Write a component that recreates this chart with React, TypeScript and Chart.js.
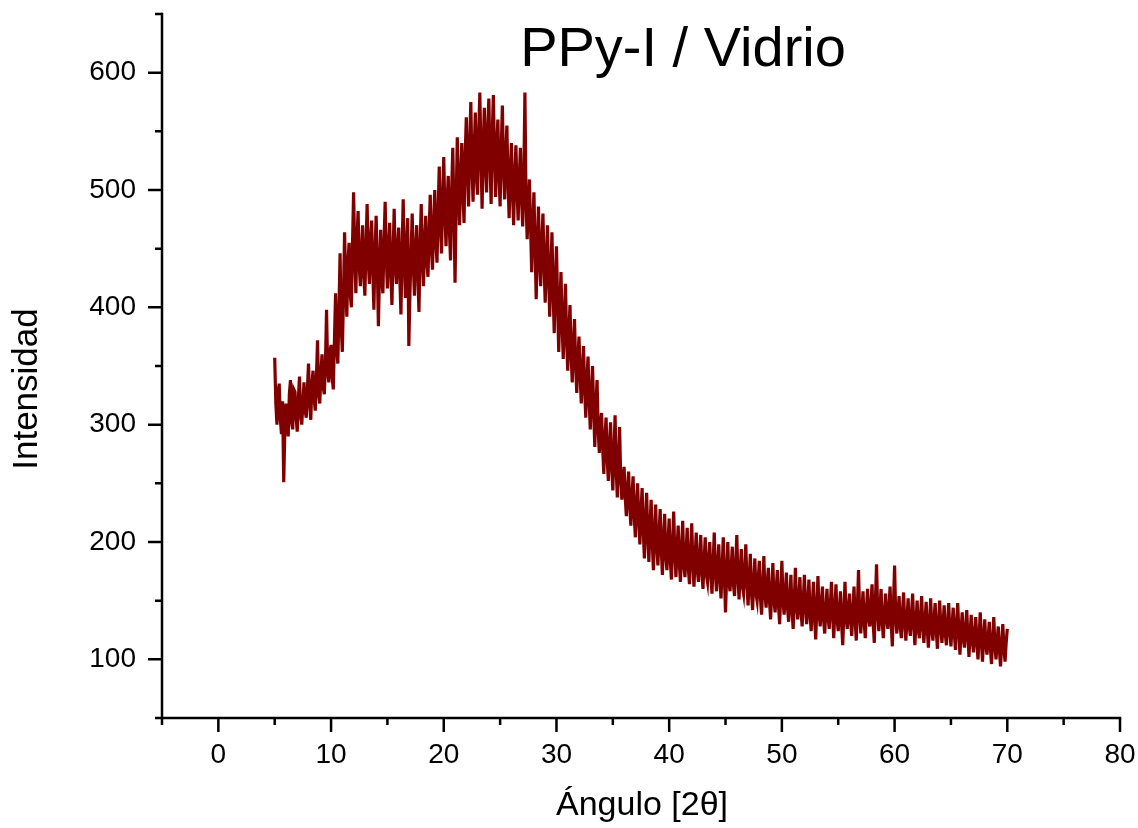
import React, { useEffect, useRef } from 'react';
import { Chart, registerables } from 'chart.js';

Chart.register(...registerables);

const CHART_TITLE = 'PPy-I / Vidrio';
const X_TITLE = 'Ángulo [2θ]';
const Y_TITLE = 'Intensidad';

const X_MIN = -5;
const X_MAX = 80;
const Y_MIN = 50;
const Y_MAX = 650;
const X_MAJOR_TICKS = [0, 10, 20, 30, 40, 50, 60, 70, 80];
const X_MINOR_TICKS = [-5, 5, 15, 25, 35, 45, 55, 65, 75];
const Y_MAJOR_TICKS = [100, 200, 300, 400, 500, 600];
const Y_MINOR_TICKS = [50, 150, 250, 350, 450, 550, 650];

// Scan grid: 2θ from 5.0° in 0.1° steps
const SCAN_START = 5;
const SCAN_STEP = 0.1;

// Intensity readings, 2θ = 5.0 … 14.9
const intensity05to15 = [
  357, 318, 300, 328, 335, 305, 292, 320, 251, 296, 318, 300, 290, 326, 338, 302, 296, 330, 328, 306,
  294, 322, 341, 308, 300, 318, 336, 312, 306, 330, 352, 318, 304, 334, 346, 322, 312, 340, 372, 326,
  318, 344, 360, 332, 326, 352, 398, 346, 336, 362, 368, 340, 330, 372, 412, 366, 352, 398, 446, 384,
  362, 408, 464, 420, 392, 438, 455, 412, 400, 452, 498, 446, 412, 458, 482, 436, 418, 446, 470, 428,
  410, 452, 488, 440, 420, 458, 474, 432, 398, 446, 478, 438, 384, 430, 466, 424, 412, 456, 490, 442,
];
// 2θ = 15.0 … 24.9
const intensity15to25 = [
  416, 450, 472, 430, 402, 444, 484, 436, 420, 452, 468, 426, 394, 448, 492, 440, 408, 452, 476, 367,
  412, 446, 480, 436, 410, 450, 470, 428, 396, 452, 488, 442, 418, 458, 478, 438, 426, 464, 496, 452,
  432, 470, 500, 456, 438, 482, 520, 470, 446, 494, 528, 480, 452, 490, 512, 466, 440, 498, 536, 482,
  421, 488, 545, 500, 470, 512, 540, 496, 472, 530, 562, 518, 486, 540, 575, 520, 490, 534, 566, 510,
  496, 548, 583, 530, 484, 536, 570, 522, 498, 552, 578, 524, 488, 546, 581, 530, 494, 538, 560, 512,
];
// 2θ = 25.0 … 34.9
const intensity25to35 = [
  486, 536, 572, 520, 492, 530, 555, 506, 476, 514, 540, 498, 470, 512, 538, 500, 474, 510, 536, 494,
  469, 508, 583, 490, 458, 486, 509, 470, 430, 468, 498, 452, 407, 450, 486, 440, 418, 456, 480, 436,
  404, 438, 470, 426, 392, 430, 464, 414, 378, 420, 452, 404, 362, 398, 430, 386, 356, 392, 420, 372,
  346, 378, 402, 360, 336, 368, 390, 352, 327, 356, 375, 342, 318, 346, 367, 330, 306, 338, 358, 320,
  296, 326, 350, 312, 281, 316, 338, 296, 276, 300, 310, 280, 258, 288, 306, 272, 252, 282, 302, 264,
];
// 2θ = 35.0 … 44.9
const intensity35to45 = [
  244, 276, 308, 262, 238, 270, 298, 254, 236, 252, 264, 238, 222, 244, 260, 230, 214, 240, 256, 222,
  204, 232, 250, 218, 198, 226, 246, 210, 186, 218, 242, 204, 183, 214, 236, 200, 176, 208, 232, 196,
  180, 206, 228, 194, 172, 202, 224, 188, 176, 200, 220, 184, 168, 198, 226, 190, 170, 194, 214, 182,
  166, 194, 218, 180, 170, 192, 212, 178, 164, 190, 216, 182, 162, 186, 208, 176, 166, 188, 206, 174,
  160, 184, 204, 172, 166, 186, 200, 170, 156, 182, 208, 174, 158, 180, 198, 168, 152, 178, 204, 170,
];
// 2θ = 45.0 … 54.9
const intensity45to55 = [
  140, 172, 200, 166, 158, 178, 196, 164, 154, 180, 206, 170, 151, 174, 194, 162, 156, 176, 198, 164,
  146, 168, 190, 158, 142, 164, 186, 156, 150, 168, 184, 152, 138, 162, 188, 156, 144, 164, 178, 150,
  134, 158, 182, 150, 140, 160, 176, 146, 130, 156, 184, 150, 138, 156, 174, 144, 132, 152, 172, 142,
  126, 150, 178, 146, 134, 152, 170, 140, 128, 150, 172, 144, 130, 148, 168, 138, 124, 146, 166, 136,
  117, 144, 171, 140, 128, 146, 162, 134, 122, 142, 160, 136, 126, 146, 166, 138, 118, 142, 164, 134,
];
// 2θ = 55.0 … 64.9
const intensity55to65 = [
  124, 142, 158, 130, 112, 140, 166, 136, 126, 144, 156, 132, 120, 142, 162, 134, 116, 144, 176, 138,
  122, 140, 158, 132, 118, 142, 160, 136, 128, 146, 164, 130, 114, 150, 181, 140, 124, 142, 160, 132,
  118, 138, 156, 134, 126, 144, 162, 130, 111, 146, 180, 136, 122, 138, 154, 128, 118, 140, 157, 130,
  116, 134, 152, 128, 120, 138, 156, 130, 112, 132, 150, 126, 118, 136, 154, 128, 114, 132, 149, 126,
  110, 130, 152, 126, 116, 134, 148, 124, 109, 130, 150, 128, 114, 130, 146, 122, 112, 130, 148, 124,
];
// 2θ = 65.0 … 70.0
const intensity65to70 = [
  111, 128, 144, 122, 108, 130, 148, 124, 104, 124, 140, 118, 110, 126, 142, 120, 102, 122, 138, 116,
  106, 122, 136, 114, 100, 120, 140, 116, 98, 118, 134, 112, 104, 118, 132, 110, 96, 116, 136, 112,
  100, 116, 128, 108, 94, 112, 130, 110, 98, 114, 126,
];

const FONT = '"Liberation Sans", Arial, Helvetica, sans-serif';

const decorPlugin = {
  id: 'decor',
  afterDraw(chart: any) {
    const { ctx, chartArea } = chart;
    const xs = chart.scales.x;
    const ys = chart.scales.y;
    const left = chartArea.left;
    const bottom = chartArea.bottom;
    ctx.save();
    ctx.strokeStyle = '#000';
    ctx.lineWidth = 2.5;
    ctx.lineCap = 'square';
    ctx.beginPath();
    ctx.moveTo(left, chartArea.top);
    ctx.lineTo(left, bottom);
    ctx.lineTo(chartArea.right, bottom);
    ctx.stroke();
    ctx.lineCap = 'butt';
    ctx.beginPath();
    Y_MAJOR_TICKS.forEach((v) => {
      const y = ys.getPixelForValue(v);
      ctx.moveTo(left - 14, y);
      ctx.lineTo(left, y);
    });
    Y_MINOR_TICKS.forEach((v) => {
      const y = ys.getPixelForValue(v);
      ctx.moveTo(left - 7, y);
      ctx.lineTo(left, y);
    });
    X_MAJOR_TICKS.forEach((v) => {
      const x = xs.getPixelForValue(v);
      ctx.moveTo(x, bottom);
      ctx.lineTo(x, bottom + 14);
    });
    X_MINOR_TICKS.forEach((v) => {
      const x = xs.getPixelForValue(v);
      ctx.moveTo(x, bottom);
      ctx.lineTo(x, bottom + 7);
    });
    ctx.stroke();

    ctx.fillStyle = '#000';
    ctx.textAlign = 'center';
    ctx.textBaseline = 'alphabetic';
    ctx.font = `56px ${FONT}`;
    ctx.fillText(CHART_TITLE, 683, 66);

    ctx.font = `34px ${FONT}`;
    ctx.fillText(X_TITLE, (chartArea.left + chartArea.right) / 2 + 1, 815);

    ctx.font = `35px ${FONT}`;
    ctx.translate(37, 389);
    ctx.rotate(-Math.PI / 2);
    ctx.fillText(Y_TITLE, 0, 0);
    ctx.restore();
  },
};

export default function App() {
  const canvasRef = useRef<HTMLCanvasElement | null>(null);

  useEffect(() => {
    document.body.style.margin = '0';
    const canvas = canvasRef.current;
    if (!canvas) return;
    const intensities = [
      ...intensity05to15,
      ...intensity15to25,
      ...intensity25to35,
      ...intensity35to45,
      ...intensity45to55,
      ...intensity55to65,
      ...intensity65to70,
    ];
    const points = intensities.map((y, i) => ({
      x: Math.round((SCAN_START + SCAN_STEP * i) * 10) / 10,
      y,
    }));

    const chart = new Chart(canvas, {
      type: 'line',
      data: {
        datasets: [
          {
            data: points,
            borderColor: '#800000',
            borderWidth: 3.2,
            borderJoinStyle: 'miter',
            pointRadius: 0,
            tension: 0,
            fill: false,
          },
        ],
      },
      plugins: [decorPlugin],
      options: {
        responsive: false,
        animation: false,
        devicePixelRatio: 1,
        layout: { padding: { top: 14, right: 18, left: 0, bottom: 0 } },
        plugins: {
          legend: { display: false },
          tooltip: { enabled: false },
          title: { display: false },
        },
        scales: {
          x: {
            type: 'linear',
            min: X_MIN,
            max: X_MAX,
            afterBuildTicks: (scale: any) => {
              scale.ticks = X_MAJOR_TICKS.map((value) => ({ value }));
            },
            afterFit: (scale: any) => {
              scale.height = 110;
              scale.paddingLeft = 0;
              scale.paddingRight = 0;
            },
            grid: {
              display: true,
              drawOnChartArea: false,
              drawTicks: true,
              tickLength: 14,
              color: 'rgba(0,0,0,0)',
            },
            border: { display: false },
            ticks: {
              color: '#000',
              font: { family: FONT, size: 28 },
              padding: 6,
              maxRotation: 0,
              autoSkip: false,
            },
          },
          y: {
            type: 'linear',
            min: Y_MIN,
            max: Y_MAX,
            afterBuildTicks: (scale: any) => {
              scale.ticks = Y_MAJOR_TICKS.map((value) => ({ value }));
            },
            afterFit: (scale: any) => {
              scale.width = 162;
              scale.paddingTop = 0;
              scale.paddingBottom = 0;
            },
            grid: {
              display: true,
              drawOnChartArea: false,
              drawTicks: true,
              tickLength: 14,
              color: 'rgba(0,0,0,0)',
            },
            border: { display: false },
            ticks: {
              color: '#000',
              font: { family: FONT, size: 28 },
              padding: 12,
              autoSkip: false,
            },
          },
        },
      },
    });
    return () => chart.destroy();
  }, []);

  return (
    <div style={{ position: 'absolute', left: 0, top: 0, width: 1138, height: 828, background: '#fff' }}>
      <canvas ref={canvasRef} width={1138} height={828} />
    </div>
  );
}
